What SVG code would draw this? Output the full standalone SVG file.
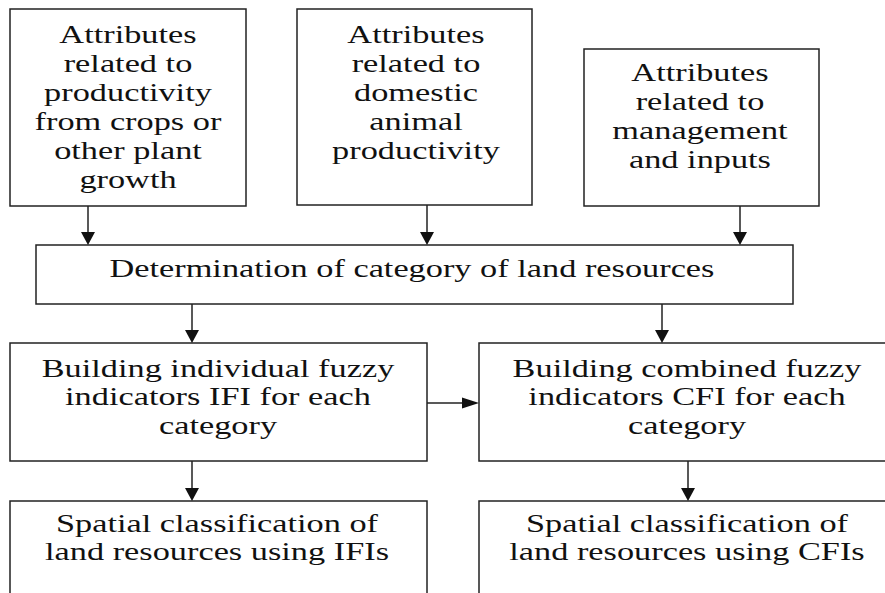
<svg xmlns="http://www.w3.org/2000/svg" width="885" height="593" viewBox="0 0 885 593">
<defs>
<style>
.box{fill:#fff;stroke:#222;stroke-width:1.5}
.t{font-family:'Liberation Serif','Times New Roman','DejaVu Serif',serif;font-size:26px;fill:#111;text-anchor:middle}
.c{stroke:#222;stroke-width:1.5;fill:none}
.h{fill:#111}
</style>
</defs>
<rect width="885" height="593" fill="#fff"/>
<g id="n1">
<rect class="box" x="10" y="9" width="236" height="197"/>
<text class="t" font-family="Liberation Serif, serif" transform="scale(1.32 1)"><tspan x="96.97" y="43">Attributes</tspan><tspan x="96.97" y="72">related to</tspan><tspan x="96.97" y="101">productivity</tspan><tspan x="96.97" y="130">from crops or</tspan><tspan x="96.97" y="159">other plant</tspan><tspan x="96.97" y="188">growth</tspan></text>
</g>
<g id="n2">
<rect class="box" x="297" y="9" width="235" height="196"/>
<text class="t" font-family="Liberation Serif, serif" transform="scale(1.32 1)"><tspan x="315.15" y="43">Attributes</tspan><tspan x="315.15" y="72">related to</tspan><tspan x="315.15" y="101">domestic</tspan><tspan x="315.15" y="130">animal</tspan><tspan x="315.15" y="159">productivity</tspan></text>
</g>
<g id="n3">
<rect class="box" x="584" y="49" width="235" height="157"/>
<text class="t" font-family="Liberation Serif, serif" transform="scale(1.32 1)"><tspan x="530.3" y="81">Attributes</tspan><tspan x="530.3" y="110">related to</tspan><tspan x="530.3" y="139">management</tspan><tspan x="530.3" y="168">and inputs</tspan></text>
</g>
<g id="n4">
<rect class="box" x="36" y="245" width="757" height="59"/>
<text class="t" font-family="Liberation Serif, serif" transform="scale(1.32 1)"><tspan x="312.1" y="277">Determination of category of land resources</tspan></text>
</g>
<g id="n5">
<rect class="box" x="10" y="343" width="417" height="118"/>
<text class="t" font-family="Liberation Serif, serif" transform="scale(1.32 1)"><tspan x="165.15" y="377">Building individual fuzzy</tspan><tspan x="165.15" y="405.5">indicators IFI for each</tspan><tspan x="165.15" y="434">category</tspan></text>
</g>
<g id="n6">
<rect class="box" x="479" y="343" width="420" height="118"/>
<text class="t" font-family="Liberation Serif, serif" transform="scale(1.32 1)"><tspan x="520.45" y="377">Building combined fuzzy</tspan><tspan x="520.45" y="405.5">indicators CFI for each</tspan><tspan x="520.45" y="434">category</tspan></text>
</g>
<g id="n7">
<rect class="box" x="10" y="501" width="417" height="110"/>
<text class="t" font-family="Liberation Serif, serif" transform="scale(1.32 1)"><tspan x="164.4" y="532">Spatial classification of</tspan><tspan x="164.4" y="560">land resources using IFIs</tspan></text>
</g>
<g id="n8">
<rect class="box" x="479" y="501" width="420" height="110"/>
<text class="t" font-family="Liberation Serif, serif" transform="scale(1.32 1)"><tspan x="520.45" y="532">Spatial classification of</tspan><tspan x="520.45" y="560">land resources using CFIs</tspan></text>
</g>
<g id="connectors">
<line class="c" x1="88" y1="206" x2="88" y2="233"/>
<polygon class="h" points="81,232 95,232 88,245"/>
<line class="c" x1="427" y1="205" x2="427" y2="233"/>
<polygon class="h" points="420,232 434,232 427,245"/>
<line class="c" x1="740" y1="206" x2="740" y2="233"/>
<polygon class="h" points="733,232 747,232 740,245"/>
<line class="c" x1="192" y1="304" x2="192" y2="331"/>
<polygon class="h" points="185,330 199,330 192,343"/>
<line class="c" x1="662" y1="304" x2="662" y2="331"/>
<polygon class="h" points="655,330 669,330 662,343"/>
<line class="c" x1="427" y1="403" x2="463" y2="403"/>
<polygon class="h" points="462,397.5 462,408.5 479,403"/>
<line class="c" x1="192" y1="461" x2="192" y2="489"/>
<polygon class="h" points="185,488 199,488 192,501"/>
<line class="c" x1="688" y1="461" x2="688" y2="489"/>
<polygon class="h" points="681,488 695,488 688,501"/>
</g>
</svg>
